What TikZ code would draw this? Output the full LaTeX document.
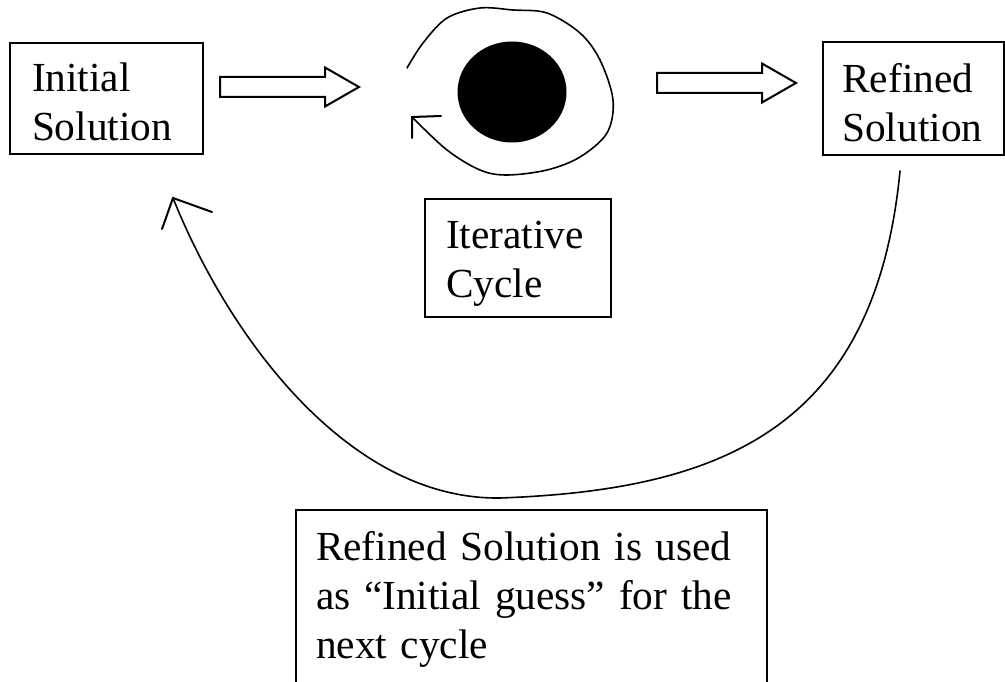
\documentclass[tikz,border=0pt]{standalone}
\usepackage{fontspec}
\setmainfont{Liberation Serif}
\usetikzlibrary{shapes.geometric}
\begin{document}
\begin{tikzpicture}[x=0.75pt,y=-0.75pt,
  every node/.style={font=\fontsize{31}{36.75}\selectfont},
  tbox/.style={draw, line width=1.5pt, inner ysep=0pt, anchor=base west, align=left},
  thinline/.style={line width=1.2pt, line cap=round, line join=round},
  barb/.style={line width=1.5pt, line cap=round, line join=miter},
  hollow/.style={draw, line width=1.5pt, line join=miter, fill=white},
  blockarrow/.pic={\path[hollow] (0,-10) -- (105,-10) -- (105,-19.5) -- (139,0)
      -- (105,19.5) -- (105,10) -- (0,10) -- cycle;}
]
\useasboundingbox (0,0) rectangle (1005,681);
\clip (0,0) rectangle (1005,681);

% text boxes
\node[tbox, inner xsep=16.5pt, text width=111.75pt, text height=36.75pt, text depth=46.5pt]
  (init) at (9,92) {Initial\\Solution};
\node[tbox, inner xsep=14.5pt, text width=106.75pt, text height=38.25pt, text depth=46.5pt]
  (refined) at (822,93) {Refined\\Solution};
\node[tbox, inner xsep=15.75pt, text width=108pt, text height=36.75pt, text depth=51.75pt]
  (iter) at (424,248) {Iterative\\Cycle};
\node[tbox, inner xsep=15pt, text width=323.25pt, text height=37.5pt, text depth=105pt]
  (note) at (295,560) {Refined Solution is used\\as “Initial guess” for the\\next cycle};

% the iterated core
\node[ellipse, fill=black, minimum width=81.75pt, minimum height=75.75pt, inner sep=0pt]
  (core) at (512,92) {};

% hollow block arrows
\pic at (220,87) {blockarrow};
\pic at (657,83) {blockarrow};

% loop around the core
\coordinate (looptip) at ([shift={(-100,25)}]core.center);
\draw[thinline] plot[smooth, tension=0.55] coordinates {(407,68) (423,43) (447,18) (480,8)
  (513,10) (547,13) (580,33) (600,60) (613,100) (607,133) (580,157) (547,170) (507,175)
  (480,170) (447,150) (412,117)};
\draw[barb] ([shift={(29,-1)}]looptip) -- (looptip) -- ([shift={(0,21)}]looptip);

% feedback curve
\coordinate (fbstart) at ([shift={(-13.5,15)}]refined.south);
\coordinate (fbtip) at ([shift={(66.5,43)}]init.south);
\draw[thinline] (fbstart) .. controls (875,430) and (720,490) .. (500,498)
  .. controls (350,500) and (230,340) .. (fbtip);
\draw[barb] ([shift={(39,14)}]fbtip) -- (fbtip) -- ([shift={(-11,31)}]fbtip);
\end{tikzpicture}
\end{document}
